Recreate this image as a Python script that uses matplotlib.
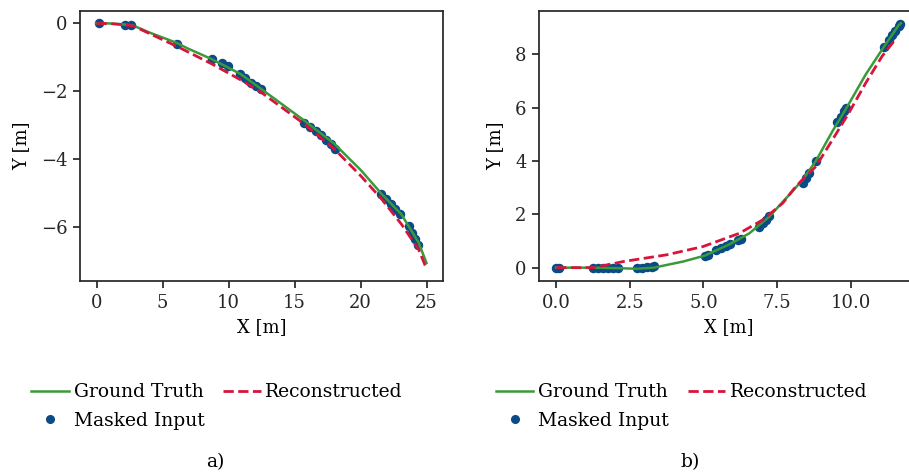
import matplotlib
matplotlib.use("Agg")
import matplotlib.pyplot as plt
from matplotlib.lines import Line2D

plt.rcParams['font.family'] = ['DejaVu Serif']
plt.rcParams['axes.edgecolor'] = '#262626'
plt.rcParams['axes.linewidth'] = 1.25
plt.rcParams['xtick.color'] = '#262626'
plt.rcParams['ytick.color'] = '#262626'
plt.rcParams['xtick.major.width'] = 1.25
plt.rcParams['ytick.major.width'] = 1.25
plt.rcParams['xtick.major.size'] = 5
plt.rcParams['ytick.major.size'] = 5

# ---------------- data: panel a ----------------
a_gt_x = [0.0, 1.0, 2.0, 2.8, 4.0, 6.1, 6.85, 8.76, 10.9, 12.4, 15.7, 18.0, 20.05, 21.6, 23.1, 24.4, 25.0]
a_gt_y = [0.0, -0.005, -0.03, -0.07, -0.27, -0.58, -0.73, -1.06, -1.49, -1.91, -2.85, -3.54, -4.33, -5.02, -5.62, -6.45, -7.05]
a_rec_x = [0.0, 1.0, 2.0, 2.8, 4.0, 6.1, 8.76, 10.9, 12.4, 15.7, 18.0, 20.0, 21.6, 23.1, 24.4, 25.0]
a_rec_y = [0.0, -0.01, -0.04, -0.08, -0.30, -0.68, -1.20, -1.66, -2.01, -2.95, -3.69, -4.48, -5.17, -5.91, -6.65, -7.22]
a_in_x = [0.18, 2.18, 2.59, 6.09, 8.76, 9.52, 9.97, 10.86, 11.24, 11.68, 12.06, 12.49,
          15.74, 16.19, 16.62, 17.0, 17.39, 17.77, 18.07, 21.57, 21.95, 22.34, 22.64,
          23.0, 23.65, 23.9, 24.16, 24.37]
a_in_y = [0.0, -0.04, -0.06, -0.61, -1.04, -1.17, -1.27, -1.49, -1.62, -1.75, -1.85, -1.94,
          -2.92, -3.05, -3.17, -3.30, -3.42, -3.56, -3.69, -5.02, -5.17, -5.32, -5.47,
          -5.62, -5.96, -6.16, -6.36, -6.52]

# ---------------- data: panel b ----------------
b_gt_x = [0.0, 1.26, 2.1, 2.73, 3.31, 4.31, 5.04, 5.89, 6.56, 7.24, 7.91, 8.37, 8.82, 9.38, 9.85, 10.51, 11.13, 11.63, 11.7]
b_gt_y = [0.0, 0.0, -0.02, -0.04, 0.0, 0.23, 0.45, 0.88, 1.29, 1.92, 2.73, 3.30, 4.01, 5.12, 5.98, 7.25, 8.29, 9.10, 9.17]
b_rec_x = [0.0, 1.26, 2.28, 3.74, 4.98, 6.22, 7.01, 7.69, 8.14, 8.82, 9.38, 9.94, 10.51, 11.07, 11.47]
b_rec_y = [0.0, 0.0, 0.23, 0.48, 0.79, 1.29, 1.79, 2.42, 3.05, 3.80, 4.80, 5.81, 6.93, 7.94, 8.50]
b_in_x = [0.0, 0.08, 1.26, 1.43, 1.6, 1.77, 1.94, 2.1, 2.73, 2.9, 3.07, 3.24, 3.31,
          5.04, 5.15, 5.43, 5.6, 5.77, 5.89, 6.17, 6.28, 6.9, 7.01, 7.12, 7.24,
          8.37, 8.48, 8.59, 8.82, 9.55, 9.66, 9.77, 9.85, 11.13, 11.3, 11.41, 11.52, 11.63, 11.68]
b_in_y = [0.0, 0.0, 0.0, 0.0, -0.01, -0.01, -0.01, -0.01, -0.03, -0.01, 0.01, 0.04, 0.05,
          0.45, 0.49, 0.66, 0.73, 0.82, 0.88, 1.04, 1.09, 1.54, 1.67, 1.79, 1.92,
          3.17, 3.36, 3.55, 4.01, 5.45, 5.66, 5.86, 5.98, 8.29, 8.54, 8.72, 8.88, 9.07, 9.15]

labels = ["Ground Truth", "Reconstructed", "Masked Input"]
captions = ["a)", "b)"]

GREEN = '#3a9a3a'
RED = '#d6143c'
BLUE = '#0a4a86'

fig = plt.figure(figsize=(9.09, 4.74), dpi=100)
ax1 = fig.add_axes([80/909, 1-281/474, 363/909, 270/474])
ax2 = fig.add_axes([539/909, 1-281/474, 379/909, 270/474])

panels = [
    (ax1, a_gt_x, a_gt_y, a_rec_x, a_rec_y, a_in_x, a_in_y),
    (ax2, b_gt_x, b_gt_y, b_rec_x, b_rec_y, b_in_x, b_in_y),
]

for ax, gx, gy, rx, ry, ix, iy in panels:
    ax.plot(ix, iy, 'o', color=BLUE, markersize=5.8, zorder=2)
    ax.plot(gx, gy, '-', color=GREEN, lw=1.8, zorder=3)
    ax.plot(rx, ry, '--', color=RED, lw=2.0, zorder=4)
    ax.set_xlabel("X [m]", fontsize=13, labelpad=5)
    ax.set_ylabel("Y [m]", fontsize=13, labelpad=8)
    ax.tick_params(labelsize=13, pad=4)

ax1.set_xticks([0, 5, 10, 15, 20, 25])
ax1.set_yticks([0, -2, -4, -6])
ax2.set_xticks([0.0, 2.5, 5.0, 7.5, 10.0])
ax2.set_yticks([0, 2, 4, 6, 8])

h_gt = Line2D([], [], color=GREEN, lw=1.8)
h_rec = Line2D([], [], color=RED, lw=2.0, ls='--')
h_in = Line2D([], [], color=BLUE, marker='o', ls='none', markersize=5.5)
# column-major fill: col1 = GT, Masked; col2 = Reconstructed
handles = [h_gt, h_in, h_rec]
leg_labels = [labels[0], labels[2], labels[1]]

for cx in [217/909, 681.5/909]:
    fig.legend(handles, leg_labels, loc='upper center', bbox_to_anchor=(cx, 1-374/474),
               ncol=2, frameon=False, fontsize=13.5, handlelength=2.0,
               handletextpad=0.25, columnspacing=1.0, labelspacing=0.55,
               borderpad=0.0)

fig.text(215/909, 1-462/474, captions[0], ha='center', va='center', fontsize=13.5)
fig.text(690/909, 1-462/474, captions[1], ha='center', va='center', fontsize=13.5)

fig.savefig("out.png", dpi=100)
